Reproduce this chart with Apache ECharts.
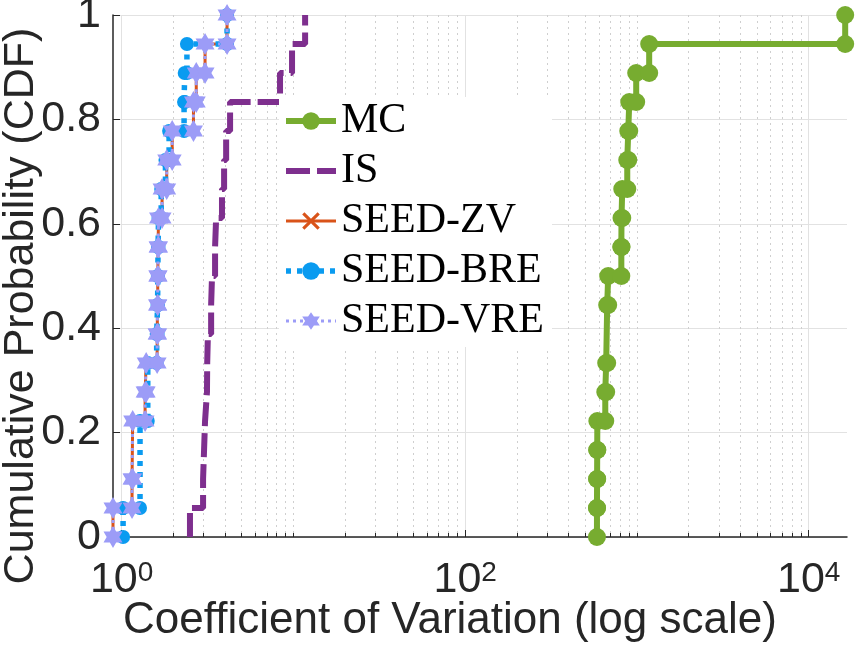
<!DOCTYPE html>
<html>
<head>
<meta charset="utf-8">
<script src="https://cdn.jsdelivr.net/npm/echarts@6/dist/echarts.min.js"></script>
<style>
html, body { margin: 0; padding: 0; background: #fff; }
#chart { width: 855px; height: 653px; }
</style>
</head>
<body>
<div id="chart"></div>
<script>
// coefficient of variation of each of the 18 runs, sorted
var mcVals  = [585, 586, 587, 588, 654, 662, 671, 671, 680, 811, 813, 821, 878, 890, 902, 990, 1178, 16300];
var isVals  = [2.50, 2.98, 3.02, 3.06, 3.14, 3.15, 3.18, 3.32, 3.36, 3.50, 3.55, 3.84, 3.95, 4.06, 4.28, 8.36, 9.82, 11.7];
var zvVals  = [0.891, 1.15, 1.16, 1.16, 1.37, 1.39, 1.61, 1.62, 1.625, 1.63, 1.64, 1.72, 1.83, 1.97, 2.62, 2.72, 3.06, 4.11];
var breVals = [1.02, 1.28, 1.28, 1.28, 1.42, 1.42, 1.60, 1.62, 1.625, 1.63, 1.64, 1.70, 1.80, 1.89, 2.31, 2.33, 2.40, 4.11];
var vreVals = [0.891, 1.15, 1.16, 1.16, 1.37, 1.39, 1.61, 1.62, 1.625, 1.63, 1.64, 1.72, 1.83, 1.97, 2.62, 2.72, 3.06, 4.11];

var names = ['MC', 'IS', 'SEED-ZV', 'SEED-BRE', 'SEED-VRE'];
var xMin = 0.891, xMax = 16700;
var majorTicks = [1, 100, 10000];
var minorTicks = [2, 3, 4, 5, 6, 7, 8, 9, 10, 20, 30, 40, 50, 60, 70, 80, 90,
                  200, 300, 400, 500, 600, 700, 800, 900, 1000,
                  2000, 3000, 4000, 5000, 6000, 7000, 8000, 9000];

// empirical cdf as corner points of the staircase
function ecdf(vals) {
    var n = vals.length, pts = [], i = 0;
    while (i < n) {
        var j = i;
        while (j + 1 < n && vals[j + 1] === vals[i]) j++;
        pts.push([vals[i], i / n]);
        pts.push([vals[i], (j + 1) / n]);
        i = j + 1;
    }
    return pts;
}

function hexagram() {
    var p = [];
    for (var k = 0; k < 12; k++) {
        var r = k % 2 === 0 ? 10 : 5.77;
        var a = Math.PI / 180 * (-90 + k * 30);
        p.push((k ? 'L' : 'M') + (r * Math.cos(a)).toFixed(2) + ' ' + (r * Math.sin(a)).toFixed(2));
    }
    return 'path://' + p.join(' ') + ' Z';
}
var xMark = 'path://M-3 -4L0 -1L3 -4L4 -3L1 0L4 3L3 4L0 1L-3 4L-4 3L-1 0L-4 -3Z';

var font = 'Liberation Sans';
var txt = '#262626';

var myChart = echarts.init(document.getElementById('chart'));
myChart.setOption({
    animation: false,
    grid: { left: 113, right: 8, top: 15, bottom: 116, containLabel: false, outerBoundsMode: 'none' },
    legend: {
        orient: 'vertical',
        left: 279,
        top: 97,
        backgroundColor: '#fff',
        padding: [2, 8, 4, 4],
        itemWidth: 50,
        itemHeight: 22,
        itemGap: 6,
        lineStyle: { width: 'inherit' },
        textStyle: { fontFamily: 'Liberation Serif', fontSize: 42, color: '#000', lineHeight: 44 },
        data: ['MC', { name: 'IS', itemStyle: { opacity: 0 } }, 'SEED-ZV', 'SEED-BRE', 'SEED-VRE']
    },
    xAxis: [{
        type: 'log',
        logBase: 10,
        min: xMin,
        max: xMax,
        name: 'Coefficient of Variation (log scale)',
        nameLocation: 'middle',
        nameGap: 62,
        nameMoveOverlap: false,
        nameTextStyle: { fontFamily: font, fontSize: 44, color: txt, padding: [0, 60, 0, 0] },
        axisLine: { show: true, onZero: false, lineStyle: { color: txt, width: 1.5 } },
        axisTick: { show: true, inside: true, length: 7, customValues: majorTicks, lineStyle: { color: txt } },
        axisLabel: {
            customValues: majorTicks,
            margin: 22,
            formatter: function (v) {
                return '{b|10}{s|' + Math.round(Math.log10(v)) + '}';
            },
            rich: {
                b: { fontFamily: font, fontSize: 43, color: txt },
                s: { fontFamily: font, fontSize: 28, color: txt, verticalAlign: 'top' }
            }
        },
        splitLine: { show: true, lineStyle: { color: '#e2e2e2', width: 1 } }
    }, {
        type: 'log',
        logBase: 10,
        min: xMin,
        max: xMax,
        position: 'bottom',
        axisLine: { show: false },
        axisTick: { show: true, inside: true, length: 4, customValues: minorTicks, lineStyle: { color: txt } },
        axisLabel: { show: false },
        splitLine: { show: true, lineStyle: { color: '#cfcfcf', width: 1, type: [2, 4] } }
    }],
    yAxis: {
        type: 'value',
        min: 0,
        max: 1,
        interval: 0.2,
        name: 'Cumulative Probability (CDF)',
        nameLocation: 'middle',
        nameGap: 70,
        nameMoveOverlap: false,
        nameTextStyle: { fontFamily: font, fontSize: 43, color: txt, padding: [0, 60, 0, 0] },
        axisLine: { show: true, lineStyle: { color: txt, width: 1.5 } },
        axisTick: { show: true, inside: true, length: 7, lineStyle: { color: txt } },
        axisLabel: { fontFamily: font, fontSize: 43, color: txt, margin: 12 },
        splitLine: { show: true, lineStyle: { color: '#e2e2e2', width: 1 } }
    },
    series: [{
        name: 'MC',
        type: 'line',
        data: ecdf(mcVals),
        color: '#77AC30',
        lineStyle: { width: 6 },
        symbol: 'circle',
        symbolSize: 18,
        showAllSymbol: true
    }, {
        name: 'IS',
        type: 'line',
        data: ecdf(isVals),
        color: '#7E2F8E',
        lineStyle: { width: 6, type: [24, 7] },
        symbol: 'none',
        showSymbol: false
    }, {
        name: 'SEED-ZV',
        type: 'line',
        data: ecdf(zvVals),
        color: '#D95319',
        lineStyle: { width: 3 },
        symbol: xMark,
        symbolSize: 9,
        showAllSymbol: true
    }, {
        name: 'SEED-BRE',
        type: 'line',
        data: ecdf(breVals),
        color: '#0A9BF0',
        lineStyle: { width: 5.5, type: [5, 6] },
        symbol: 'circle',
        symbolSize: 14,
        showAllSymbol: true
    }, {
        name: 'SEED-VRE',
        type: 'line',
        data: ecdf(vreVals),
        color: '#9C9CF7',
        lineStyle: { width: 3, type: [3, 4] },
        symbol: hexagram(),
        symbolSize: [19, 22],
        showAllSymbol: true
    }]
});
</script>
</body>
</html>
